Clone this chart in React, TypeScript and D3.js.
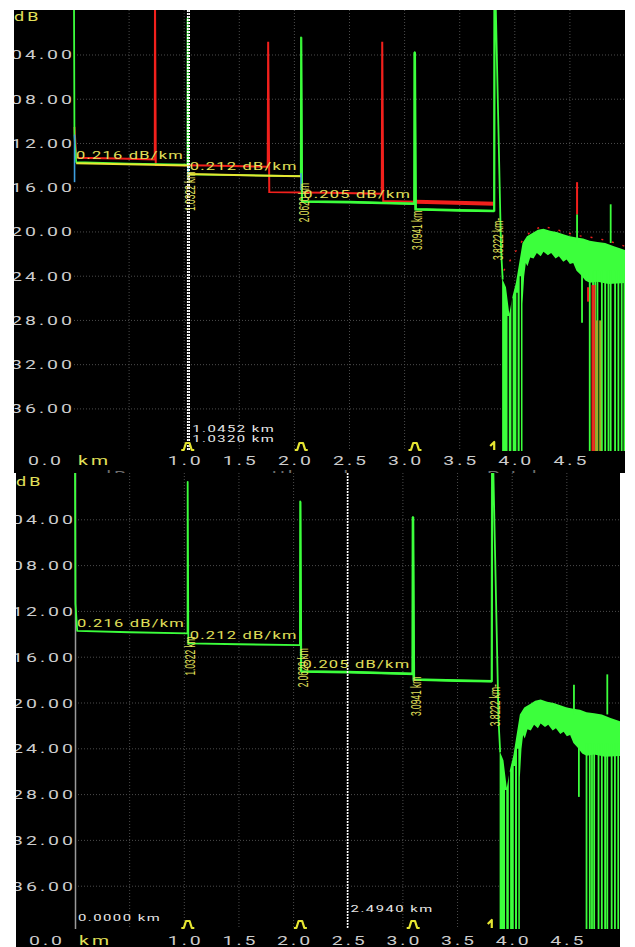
import React from 'react';
import * as d3 from 'd3';

// axis values
const kmGrid = [0.5, 1.0, 1.5, 2.0, 2.5, 3.0, 3.5, 4.0, 4.5];
const kmTicks = [1.0, 1.5, 2.0, 2.5, 3.0, 3.5, 4.0, 4.5];
const kmTickLabels = ['1.0', '1.5', '2.0', '2.5', '3.0', '3.5', '4.0', '4.5'];
const dbTicks = [4, 8, 12, 16, 20, 24, 28, 32, 36];
const dbTickLabels = ['04.00', '08.00', '12.00', '16.00', '20.00', '24.00', '28.00', '32.00', '36.00'];

// events found on the fibre
const eventKm = [1.0322, 2.062, 3.0941, 3.8222];
const eventLevelDb = [13.92, 14.95, 17.45, 18.1];
const eventLabels = ['1.0322 km', '2.0620 km', '3.0941 km', '3.8222 km-'];
const eventIsEnd = [false, false, false, true];

// section slopes
const slopeLabels = ['0.216 dB/km', '0.212 dB/km', '0.205 dB/km'];
const slopeStartKm = [0.0, 1.0322, 2.062];
const slopeLevelDb = [13.75, 14.8, 17.25];

// least-squares lines (upper screen only)
const lsaLines = [
  [[0.02, 13.78], [1.04, 14.0]],
  [[1.04, 14.77], [2.062, 14.97]],
];

// main trace [km, dB]
const greenTrace = [
  [0.0, -1], [0.004, 11.3], [0.02, 13.7], [0.5, 13.82], [1.03, 13.92],
  [1.031, 0.7], [1.037, 14.8], [1.5, 14.87], [2.058, 14.95],
  [2.06, 2.4], [2.067, 17.25], [2.5, 17.3], [2.8, 17.38], [3.09, 17.45],
  [3.092, 3.75], [3.1, 17.95], [3.5, 18.05], [3.815, 18.1],
  [3.818, -1], [3.826, -1], [3.875, 21.5], [3.89, 24.3],
];

// noise floor past the fibre end
const noiseTop = [
  [3.885, 24.2], [3.92, 25.0], [3.95, 27.4], [3.98, 25.8], [4.01, 24.6], [4.04, 22.8],
  [4.07, 21.0], [4.11, 20.4], [4.16, 20.1], [4.21, 19.8], [4.26, 19.7], [4.32, 19.9],
  [4.38, 20.0], [4.44, 20.2], [4.5, 20.4], [4.56, 20.5], [4.62, 20.6], [4.68, 20.8],
  [4.75, 20.9], [4.82, 21.0], [4.9, 21.3], [4.96, 21.5], [5.02, 21.7],
];
const noiseHole = [
  [4.07, 40], [4.07, 26.5], [4.085, 24.0], [4.1, 22.8], [4.115, 23.1], [4.14, 22.3],
  [4.17, 22.4], [4.2, 21.9], [4.235, 22.2], [4.26, 21.8], [4.3, 22.1], [4.33, 21.9],
  [4.37, 22.4], [4.4, 22.2], [4.44, 22.7], [4.47, 22.5], [4.5, 22.9], [4.53, 22.8],
  [4.56, 23.5], [4.6, 23.9], [4.64, 24.4], [4.68, 24.6], [4.75, 24.5], [4.85, 24.7],
  [5.02, 24.6], [5.02, 40],
];
const noiseGaps = [[3.94, 27.6], [3.975, 26.0], [4.02, 25.5], [4.05, 24.0]];
const noiseDrops = [
  [4.61, 28.2], [4.68, 40], [4.71, 40], [4.73, 40], [4.75, 40], [4.79, 40], [4.82, 40],
  [4.85, 40], [4.87, 40], [4.91, 40], [4.94, 40], [4.97, 40], [4.995, 40],
];
const noiseSpikes = [[4.565, 18.4], [4.87, 17.5]];

// reference trace (upper screen only)
const redTrace = [
  [0.004, 10.5], [0.02, 13.3], [0.4, 13.35], [0.733, 13.45], [0.735, -1], [0.742, 13.95],
  [1.2, 14.0], [1.758, 14.1], [1.762, 2.8], [1.772, 16.4], [2.3, 16.45], [2.793, 16.55],
  [2.797, 2.8], [2.806, 17.2], [3.2, 17.3], [3.815, 17.45],
];
const redNoiseTop = [
  [3.9, 23.5], [4.08, 20.6], [4.15, 19.9], [4.25, 19.5], [4.35, 19.7], [4.45, 20.0],
  [4.55, 20.3], [4.7, 20.5], [4.85, 20.8], [5.0, 21.3],
];
const redDrops = [[4.565, 15.5, 18.4], [4.665, 25.0, 26.3], [4.705, 24.8, 40], [4.722, 24.8, 40]];
const mixDrops = [[4.745, 28, 40], [4.775, 28, 40]];

// section markers
const blueMarkers = [[0.005, 11.2, 15.5], [1.035, 14.1, 15.3], [2.06, 14.7, 16.2]];

const GREEN = '#3cff3c';
const RED = '#f2201c';
const OLIVE = '#a8a626';
const YELLOW = '#e6e632';
const YELLOW_TXT = '#e2e05a';
const BLUE = '#3d9fe0';
const GRID = '#4c4c4c';
const LABEL = '#cdcdcd';

const Wide = ({ x, y, anchor = 'start', sx = 1.5, size = 13, ls = 2, fill = LABEL, children }: any) => (
  <text
    transform={`translate(${x},${y}) scale(${sx},1)`}
    textAnchor={anchor}
    fontSize={size}
    letterSpacing={ls}
    fill={fill}
    fontFamily="Roboto, 'DejaVu Sans', sans-serif"
  >
    {children}
  </text>
);

const topCfg = {
  id: 'upper', left: 14, right: 625, top: 10, bottom: 473,
  x0: 74, x5: 625, y0: 10.75, y40: 453.15, plotBottom: 451,
  xLabelY: 465, dbLabelY: 21, markerY: 450, labelDrop: 7, withRef: true,
  cursors: [1.032, 1.0452], cursorStyle: ['white', 'white'],
  cursorText: [
    { text: '1.0452 km', km: 1.0452, up: 19 },
    { text: '1.0320 km', km: 1.0452, up: 9.5 },
  ],
};

const bottomCfg = {
  id: 'lower', left: 16, right: 620, top: 473, bottom: 947,
  x0: 75, x5: 621.5, y0: 474, y40: 932, plotBottom: 929,
  xLabelY: 945, dbLabelY: 486, markerY: 928, labelDrop: 3, withRef: false,
  cursors: [0.0, 2.494], cursorStyle: ['gray', 'white'],
  cursorText: [
    { text: '0.0000 km', km: 0.0, up: 8 },
    { text: '2.4940 km', km: 2.494, up: 17 },
  ],
};

function Panel({ cfg }: any) {
  const x = d3.scaleLinear().domain([0, 5]).range([cfg.x0, cfg.x5]);
  const y = d3.scaleLinear().domain([0, 40]).range([cfg.y0, cfg.y40]);
  const line = d3.line<any>().x((d) => x(d[0])).y((d) => y(d[1]));
  const band = d3.area<any>().x((d) => x(d[0])).y0(y(40)).y1((d) => y(d[1]));
  const id = cfg.id;
  const plotH = cfg.plotBottom - cfg.top;

  return (
    <g>
      <defs>
        <clipPath id={`${id}-frame`}>
          <rect x={cfg.left} y={cfg.top} width={cfg.right - cfg.left} height={cfg.bottom - cfg.top} />
        </clipPath>
        <clipPath id={`${id}-plot`}>
          <rect x={cfg.x0 - 2} y={cfg.top} width={cfg.right - cfg.x0 + 2} height={plotH} />
        </clipPath>
        <clipPath id={`${id}-noisy`}>
          <rect x={x(2.068)} y={cfg.top} width={x(3.814) - x(2.068)} height={plotH} />
        </clipPath>
        <clipPath id={`${id}-rednoisy`}>
          <rect x={x(3.1)} y={cfg.top} width={x(3.814) - x(3.1)} height={plotH} />
        </clipPath>
      </defs>
      <rect x={cfg.left} y={cfg.top} width={cfg.right - cfg.left} height={cfg.bottom - cfg.top} fill="#000" />

      <g clipPath={`url(#${id}-frame)`}>
        {/* grid */}
        {kmGrid.map((k) => (
          <line key={`v${k}`} x1={x(k)} x2={x(k)} y1={cfg.top} y2={cfg.plotBottom}
            stroke={GRID} strokeWidth={1} strokeDasharray="1,2" />
        ))}
        {dbTicks.map((v) => (
          <line key={`h${v}`} x1={cfg.x0} x2={cfg.right} y1={y(v)} y2={y(v)}
            stroke={GRID} strokeWidth={1} strokeDasharray="1,2" />
        ))}

        {/* y labels */}
        <Wide x={cfg.left} y={cfg.dbLabelY} size={12} fill={YELLOW_TXT}>dB</Wide>
        {dbTicks.map((v, i) => (
          <Wide key={`yl${v}`} x={cfg.x0 + 1} y={y(v) + 4.5} anchor="end">{dbTickLabels[i]}</Wide>
        ))}

        {/* x labels */}
        <Wide x={cfg.x0 - 10} y={cfg.xLabelY} anchor="end">0.0</Wide>
        <Wide x={cfg.x0 + 4} y={cfg.xLabelY} fill={YELLOW_TXT}>km</Wide>
        {kmTicks.map((k, i) => (
          <Wide key={`xl${k}`} x={x(k) + 1.5} y={cfg.xLabelY} anchor="middle">{kmTickLabels[i]}</Wide>
        ))}

        {cfg.withRef && (
          <g>
            <Wide x={100} y={480} fill="#6e6e6e">dB</Wide>
            <Wide x={272} y={480} fill="#6e6e6e">Uloss km</Wide>
            <Wide x={487} y={480} fill="#6e6e6e">P-L km</Wide>
          </g>
        )}

        <g clipPath={`url(#${id}-plot)`}>
          {/* cursor at origin sits under the trace */}
          {cfg.cursors.map((c: number, i: number) =>
            cfg.cursorStyle[i] === 'gray' ? (
              <line key={`cg${i}`} x1={x(c) + 0.5} x2={x(c) + 0.5} y1={cfg.top} y2={cfg.plotBottom}
                stroke="#9a9a9a" strokeWidth={1.5} />
            ) : null
          )}

          {cfg.withRef && (
            <g>
              <path d={line(redTrace as any) || ''} fill="none" stroke={RED} strokeWidth={2} />
              <path d={line(redTrace as any) || ''} fill="none" stroke={RED} strokeWidth={4}
                clipPath={`url(#${id}-rednoisy)`} />
              <path d={line(redNoiseTop as any) || ''} fill="none" stroke={RED} strokeWidth={1.4}
                strokeDasharray="2,9" />
            </g>
          )}

          {/* noise floor */}
          <path d={band(noiseTop as any) || ''} fill={GREEN} />
          <path d={(line(noiseHole as any) || '') + 'Z'} fill="#000" />
          {noiseGaps.map((g, i) => (
            <line key={`gap${i}`} x1={x(g[0])} x2={x(g[0])} y1={y(g[1])} y2={y(40)}
              stroke="#000" strokeWidth={1.3} />
          ))}
          {noiseDrops.map((g, i) => (
            <line key={`drop${i}`} x1={x(g[0])} x2={x(g[0])} y1={y(23.5)} y2={y(g[1])}
              stroke={GREEN} strokeWidth={1.8} />
          ))}
          {noiseSpikes.map((g, i) => (
            <line key={`spk${i}`} x1={x(g[0])} x2={x(g[0])} y1={y(g[1])} y2={y(21)}
              stroke={GREEN} strokeWidth={1.8} />
          ))}

          {/* main trace */}
          <path d={line(greenTrace as any) || ''} fill="none" stroke={GREEN} strokeWidth={1.8}
            strokeLinejoin="round" />
          <path d={line(greenTrace as any) || ''} fill="none" stroke={GREEN} strokeWidth={2.6}
            clipPath={`url(#${id}-noisy)`} />

          {cfg.withRef && (
            <g>
              {redDrops.map((g, i) => (
                <line key={`rd${i}`} x1={x(g[0])} x2={x(g[0])} y1={y(g[1])} y2={y(g[2])}
                  stroke={RED} strokeWidth={2} />
              ))}
              {mixDrops.map((g, i) => (
                <line key={`md${i}`} x1={x(g[0])} x2={x(g[0])} y1={y(g[1])} y2={y(g[2])}
                  stroke={OLIVE} strokeWidth={2} />
              ))}
              {lsaLines.map((s, i) => (
                <path key={`lsa${i}`} d={line(s as any) || ''} stroke={YELLOW} strokeWidth={2} fill="none" />
              ))}
              {blueMarkers.map((b, i) => (
                <line key={`bm${i}`} x1={x(b[0])} x2={x(b[0])} y1={y(b[1])} y2={y(b[2])}
                  stroke={BLUE} strokeWidth={1.6} />
              ))}
            </g>
          )}

          {/* dotted cursors */}
          {cfg.cursors.map((c: number, i: number) =>
            cfg.cursorStyle[i] === 'white' ? (
              <line key={`cw${i}`} x1={x(c)} x2={x(c)} y1={cfg.top} y2={cfg.plotBottom}
                stroke="#ffffff" strokeWidth={1.6} strokeDasharray="2,1" />
            ) : null
          )}
        </g>

        {/* slope labels */}
        {slopeLabels.map((t, i) => (
          <Wide key={`sl${i}`} x={x(slopeStartKm[i]) + 2} y={y(slopeLevelDb[i]) - 4}
            size={11} sx={1.5} ls={0.8} fill={YELLOW_TXT}>{t}</Wide>
        ))}

        {/* event distances */}
        {eventKm.map((k, i) => (
          <text key={`el${i}`}
            transform={`translate(${x(k) + 7.5},${y(eventLevelDb[i]) + cfg.labelDrop}) rotate(-90) scale(0.56,1)`}
            textAnchor="end" fontSize={15} fill={YELLOW_TXT}
            fontFamily="'Liberation Sans', Arial, sans-serif">
            {eventLabels[i]}
          </text>
        ))}

        {/* event markers */}
        {eventKm.map((k, i) => (
          <path key={`em${i}`}
            transform={`translate(${x(k)},${cfg.markerY})`}
            d={eventIsEnd[i] ? 'M-5,-4 L-1,-8 L-1,0' : 'M-6.5,0 L-4,0 L-1.8,-7 L1.8,-7 L4,0 L6.5,0'}
            fill="none" stroke={YELLOW} strokeWidth={2.2} strokeLinejoin="round" />
        ))}

        {/* cursor readouts */}
        {cfg.cursorText.map((c: any, i: number) => (
          <Wide key={`ct${i}`} x={x(c.km) + 3} y={cfg.plotBottom - c.up}
            size={9} sx={1.65} ls={0.9} fill="#e8e8e8">{c.text}</Wide>
        ))}
      </g>
    </g>
  );
}

export default function App() {
  return (
    <svg width={635} height={947} style={{ position: 'absolute', left: 0, top: 0, background: '#fff' }}>
      <Panel cfg={topCfg} />
      <Panel cfg={bottomCfg} />
    </svg>
  );
}
